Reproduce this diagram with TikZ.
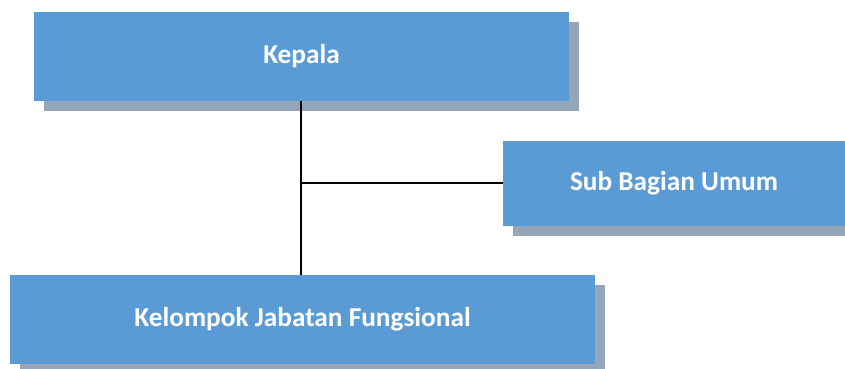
\documentclass[tikz,border=0pt]{standalone}
\usepackage{fontspec}
\setmainfont{Carlito}
\usetikzlibrary{shadows}
\definecolor{boxblue}{RGB}{91,155,213}
\definecolor{shadowc}{RGB}{149,165,186}
\tikzset{
  orgbox/.style={fill=boxblue, inner sep=0pt, outer sep=0pt, text=white,
    font=\fontsize{27.3}{32}\selectfont\bfseries,
    general shadow={fill=shadowc, shadow xshift=10pt, shadow yshift=-10pt}},
  conn/.style={line width=2pt, black}
}
\begin{document}
\begin{tikzpicture}[x=1pt,y=1pt]
\clip (0,0) rectangle (845,369);
\useasboundingbox (0,0) rectangle (845,369);
\node[orgbox, minimum width=535pt, minimum height=89pt] (kepala) at (301.5,312.5) {Kepala};
\node[orgbox, minimum width=342pt, minimum height=85pt] (sub) at (674,185.5) {Sub Bagian Umum};
\node[orgbox, minimum width=585pt, minimum height=89pt] (kjf) at (302.5,49.5) {Kelompok Jabatan Fungsional};
\coordinate (j) at (301,185.5);
\draw[conn] (kepala.south -| j) -- (kjf.north -| j);
\draw[conn] (j) -- (sub.west);
\end{tikzpicture}
\end{document}
